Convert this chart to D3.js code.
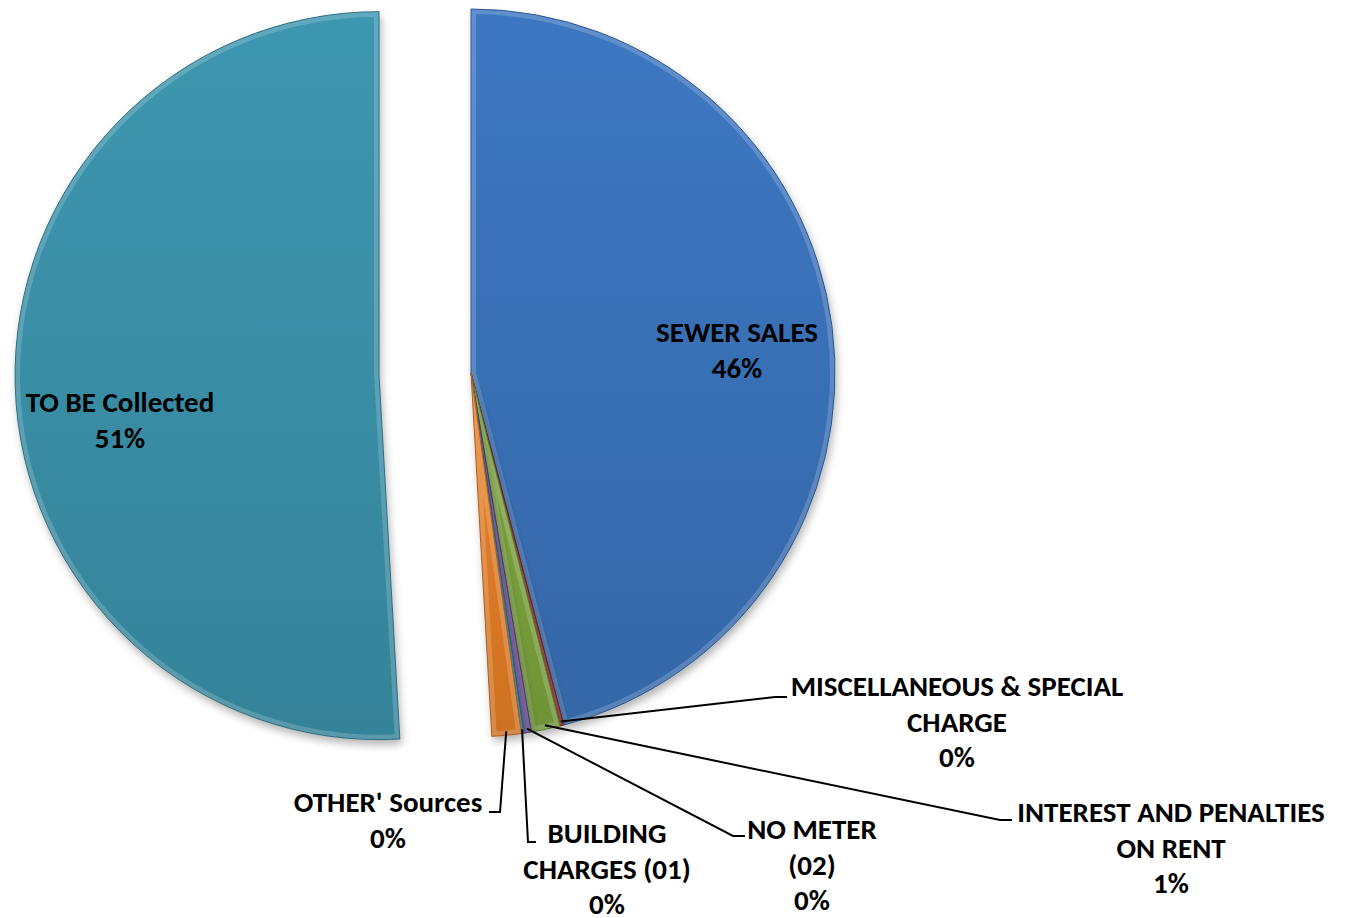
<!DOCTYPE html>
<html>
<head>
<meta charset="utf-8">
<script src="https://cdn.jsdelivr.net/npm/d3@7"></script>
<style>
  body { margin: 0; background: #fff; }
  text { font-family: Carlito, Lato, "Open Sans", sans-serif; font-weight: bold; font-size: 29px; fill: #000; }
</style>
</head>
<body>
<div id="chart"></div>
<script>
// data (share of total, in %)
var categories = ["SEWER SALES", "MISCELLANEOUS & SPECIAL CHARGE", "INTEREST AND PENALTIES ON RENT",
  "NO METER (02)", "BUILDING CHARGES (01)", "OTHER' Sources", "TO BE Collected"];
var shares = [45.9, 0.17, 1.28, 0.33, 0.11, 1.3, 50.91];
var shownPct = ["46%", "0%", "1%", "0%", "0%", "0%", "51%"];
var labelLines = [
  ["SEWER SALES"],
  ["MISCELLANEOUS & SPECIAL", "CHARGE"],
  ["INTEREST AND PENALTIES", "ON RENT"],
  ["NO METER", "(02)"],
  ["BUILDING", "CHARGES (01)"],
  ["OTHER' Sources"],
  ["TO BE Collected"]
];
var colors = ["#3a71b8", "#9b2b2e", "#79a13c", "#6a4b9a", "#2a9bb3", "#e07b26", "#3a8fa7"];
var exploded = [0, 0, 0, 0, 0, 0, 92];

// layout
var width = 1346, height = 918;
var cx = 471, cy = 373, r = 364;
var lineH = 35.5;
// label block centres (x, baseline of first line) and leader elbow for the outside ones
var labelPos = [
  {x: 737, y: 342},
  {x: 957, y: 696, elbow: [775, 697], end: [787, 697]},
  {x: 1171, y: 822, elbow: [1000, 820], end: [1012, 820]},
  {x: 812, y: 839, elbow: [733, 836], end: [745, 836]},
  {x: 607, y: 843, elbow: [528, 842], end: [536, 842]},
  {x: 388, y: 812, elbow: [500, 812], end: [489, 812]},
  {x: 120, y: 412}
];

var svg = d3.select("#chart").append("svg")
  .attr("width", width).attr("height", height);

var defs = svg.append("defs");
var shadow = defs.append("filter").attr("id", "shadow")
  .attr("x", "-10%").attr("y", "-10%").attr("width", "120%").attr("height", "120%");
shadow.append("feDropShadow").attr("dx", 2).attr("dy", 5).attr("stdDeviation", 4)
  .attr("flood-color", "#000").attr("flood-opacity", 0.3);

colors.forEach(function(c, i){
  var g = defs.append("linearGradient").attr("id", "grad" + i)
    .attr("x1", 0).attr("y1", 0).attr("x2", 0).attr("y2", 1);
  g.append("stop").attr("offset", "0%").attr("stop-color", d3.color(c).brighter(0.15));
  g.append("stop").attr("offset", "100%").attr("stop-color", d3.color(c).darker(0.25));
});

var pie = d3.pie().sort(null).value(function(d){ return d; });
var arcs = pie(shares);
var arc = d3.arc().innerRadius(0).outerRadius(r);

function offset(d, i){
  var mid = (d.startAngle + d.endAngle) / 2;
  return [Math.sin(mid) * exploded[i], -Math.cos(mid) * exploded[i]];
}

var pieG = svg.append("g").attr("transform", "translate(" + cx + "," + cy + ")");

var slices = pieG.selectAll("g.slice").data(arcs).enter().append("g")
  .attr("class", "slice")
  .attr("transform", function(d, i){ var o = offset(d, i); return "translate(" + o[0] + "," + o[1] + ")"; });

slices.append("clipPath").attr("id", function(d, i){ return "clip" + i; })
  .append("path").attr("d", arc);

slices.append("path")
  .attr("d", arc)
  .attr("fill", function(d, i){ return "url(#grad" + i + ")"; })
  .attr("filter", "url(#shadow)");

// bevel-ish inner edge
slices.append("path")
  .attr("d", arc)
  .attr("fill", "none")
  .attr("clip-path", function(d, i){ return "url(#clip" + i + ")"; })
  .attr("stroke", "#fff").attr("stroke-opacity", 0.18).attr("stroke-width", 10);
slices.append("path")
  .attr("d", arc)
  .attr("fill", "none")
  .attr("stroke", function(d, i){ return d3.color(colors[i]).darker(0.7); })
  .attr("stroke-width", 1);

// leader lines
var edgeArc = d3.arc().innerRadius(r - 4).outerRadius(r - 4);
arcs.forEach(function(d, i){
  var p = labelPos[i];
  if (!p.elbow) return;
  var o = offset(d, i);
  var c = edgeArc.centroid(d);
  var start = [cx + c[0] + o[0], cy + c[1] + o[1]];
  svg.append("polyline")
    .attr("points", [start, p.elbow, p.end].map(function(q){ return q.join(","); }).join(" "))
    .attr("fill", "none").attr("stroke", "#000").attr("stroke-width", 2);
});

// labels
arcs.forEach(function(d, i){
  var p = labelPos[i];
  var lines = labelLines[i].concat([shownPct[i]]);
  var t = svg.append("text").attr("text-anchor", "middle");
  lines.forEach(function(s, k){
    t.append("tspan").attr("x", p.x).attr("y", p.y + k * lineH).text(s);
  });
});
</script>
</body>
</html>
